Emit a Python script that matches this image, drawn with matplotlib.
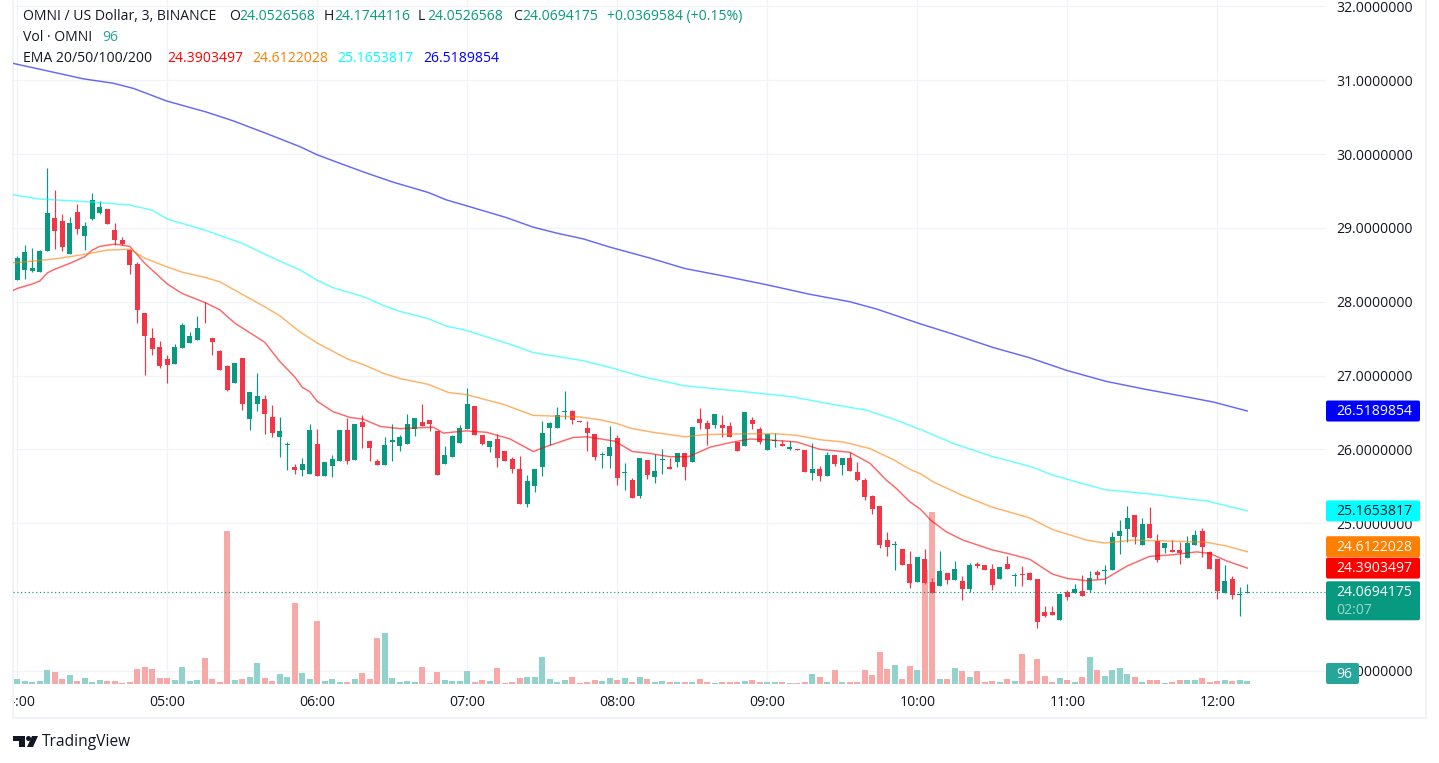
import matplotlib
matplotlib.use("Agg")
import matplotlib.pyplot as plt
from matplotlib.patches import FancyBboxPatch, Polygon, Circle, Rectangle
from matplotlib.transforms import IdentityTransform, Bbox

plt.rcParams['font.family'] = ['Open Sans', 'DejaVu Sans']

opens = [28.29,28.43,28.42,28.40,28.69,29.13,29.09,28.65,29.22,28.89,
 29.12,29.20,29.26,28.97,28.84,28.70,28.51,27.85,27.51,27.39,
 27.22,27.16,27.37,27.44,27.48,27.81,27.51,27.33,27.13,26.90,
 27.24,26.41,26.61,26.68,26.44,26.17,26.06,25.76,25.72,25.67,
 26.07,25.64,25.77,25.84,26.26,25.85,26.37,26.11,25.84,25.79,
 26.10,26.04,26.07,26.28,26.37,26.40,26.25,25.80,25.90,26.09,
 26.27,26.59,26.19,26.03,26.14,25.98,25.87,25.73,25.26,25.50,
 25.76,26.29,26.29,26.51,26.52,26.38,26.29,26.21,25.92,25.91,
 26.15,25.68,25.58,25.37,25.85,25.63,25.86,25.76,25.83,25.95,
 25.83,26.41,26.36,26.33,26.33,26.32,26.10,26.04,26.40,26.27,
 25.99,26.11,26.07,26.00,26.00,25.99,25.68,25.73,25.64,25.92,
 25.79,25.88,25.69,25.58,25.37,25.23,24.77,24.70,24.65,24.45,
 24.20,24.51,24.20,24.15,24.32,24.23,24.22,24.11,24.45,24.43,
 24.38,24.24,24.45,24.28,24.31,24.32,24.24,23.79,23.79,23.69,
 24.07,24.05,24.08,24.09,24.34,24.35,24.36,24.82,24.92,25.11,
 24.70,24.99,24.76,24.66,24.64,24.64,24.53,24.70,24.89,24.61,
 24.51,24.05,24.24,24.03,24.0526568]
closes = [28.59,28.67,28.46,28.69,29.20,28.96,28.74,29.07,28.99,29.03,
 29.38,29.28,29.05,28.84,28.78,28.50,27.89,27.54,27.36,27.13,
 27.14,27.39,27.69,27.54,27.64,27.80,27.45,27.07,26.80,27.17,
 26.61,26.78,26.72,26.48,26.22,26.25,26.07,25.72,25.80,26.26,
 25.64,25.83,25.87,26.26,25.84,26.34,26.30,26.02,25.79,26.06,
 26.13,26.17,26.34,26.42,26.32,26.34,25.65,25.92,26.18,26.29,
 26.61,26.19,26.07,26.11,25.88,25.84,25.73,25.26,25.57,25.73,
 26.22,26.36,26.46,26.52,26.40,26.37,26.22,25.90,25.94,26.03,
 25.61,25.69,25.34,25.88,25.65,25.71,25.87,25.73,25.95,25.76,
 26.30,26.36,26.27,26.48,26.29,26.17,25.98,26.51,26.34,26.10,
 26.21,26.13,26.04,26.03,25.99,25.69,25.73,25.64,25.92,25.80,
 25.88,25.71,25.58,25.35,25.19,24.70,24.68,24.72,24.43,24.19,
 24.54,24.19,24.05,24.35,24.23,24.38,24.11,24.43,24.42,24.36,
 24.16,24.40,24.38,24.30,24.30,24.23,23.66,23.74,23.75,24.04,
 24.00,24.11,24.01,24.26,24.30,24.36,24.81,24.89,25.07,24.81,
 24.99,24.80,24.50,24.73,24.61,24.59,24.73,24.84,24.68,24.38,
 24.08,24.21,24.03,24.04,24.0694175]
highs = [28.62,28.77,28.73,28.70,29.81,29.51,29.19,29.15,29.32,29.08,
 29.47,29.36,29.26,29.07,28.88,28.71,28.54,27.85,27.64,27.47,
 27.28,27.43,27.71,27.59,27.81,28.00,27.51,27.35,27.14,27.17,
 27.24,26.78,27.03,26.74,26.60,26.44,26.10,25.80,25.88,26.34,
 26.27,25.83,25.92,26.26,26.42,26.34,26.46,26.11,25.87,26.17,
 26.34,26.19,26.48,26.42,26.61,26.40,26.25,26.04,26.19,26.33,
 26.83,26.59,26.19,26.11,26.21,25.98,25.90,25.91,25.65,25.73,
 26.38,26.37,26.57,26.79,26.53,26.38,26.38,26.21,25.96,26.32,
 26.19,25.81,25.61,25.88,25.86,25.94,26.00,25.88,25.95,25.95,
 26.30,26.56,26.40,26.48,26.47,26.37,26.10,26.51,26.44,26.30,
 26.21,26.22,26.13,26.11,26.00,25.99,26.09,25.77,25.96,25.92,
 25.88,25.96,25.83,25.61,25.38,25.23,24.88,24.76,24.65,24.62,
 24.54,24.65,24.26,24.62,24.32,24.49,24.28,24.46,24.47,24.43,
 24.45,24.40,24.55,24.32,24.42,24.34,24.24,23.88,23.88,24.04,
 24.09,24.17,24.30,24.35,24.36,24.43,24.88,25.04,25.23,25.11,
 25.07,25.22,24.85,24.73,24.77,24.74,24.82,24.91,24.93,24.62,
 24.51,24.43,24.28,24.13,24.1744116]
lows = [28.29,28.31,28.40,28.40,28.69,28.71,28.69,28.65,28.92,28.70,
 29.11,29.19,29.05,28.77,28.77,28.38,27.71,27.01,27.28,27.10,
 26.90,27.16,27.37,27.44,27.48,27.71,27.28,27.07,26.79,26.90,
 26.53,26.26,26.52,26.21,26.17,25.90,25.72,25.67,25.64,25.67,
 25.64,25.64,25.62,25.84,25.80,25.85,26.02,25.84,25.79,25.79,
 25.84,25.98,26.07,26.18,26.32,26.25,25.65,25.80,25.90,26.09,
 26.27,26.19,26.06,25.96,25.76,25.84,25.68,25.26,25.22,25.42,
 25.64,26.06,26.29,26.41,26.34,26.37,25.98,25.85,25.75,25.75,
 25.52,25.45,25.34,25.34,25.60,25.54,25.67,25.73,25.76,25.58,
 25.83,26.27,26.06,26.29,26.17,26.17,25.98,26.04,26.27,26.07,
 25.99,26.03,26.04,25.99,25.99,25.69,25.58,25.57,25.64,25.77,
 25.65,25.71,25.57,25.31,25.12,24.66,24.55,24.36,24.43,24.12,
 24.20,24.17,24.05,24.15,24.17,24.23,23.96,24.07,24.39,24.36,
 24.09,24.24,24.38,24.15,24.15,24.23,23.58,23.73,23.75,23.69,
 23.96,24.05,24.01,24.07,24.24,24.17,24.36,24.58,24.74,24.72,
 24.70,24.80,24.47,24.59,24.61,24.45,24.53,24.70,24.54,24.38,
 23.97,24.05,23.97,23.74,24.0526568]
volumes = [160,96,64,96,448,384,160,288,96,192,
 64,128,96,96,32,64,480,544,480,192,
 192,128,544,96,128,832,160,64,4896,128,
 160,224,672,192,96,320,224,2592,352,160,
 2016,96,160,64,64,160,352,160,1472,1632,
 192,64,96,64,544,32,384,128,96,96,
 416,64,128,96,512,32,64,192,224,224,
 864,160,64,128,224,32,64,128,96,192,
 128,192,64,224,160,64,96,64,64,64,
 64,160,64,32,64,64,64,96,128,64,
 64,64,64,32,32,64,320,224,64,448,
 64,64,64,448,288,1024,480,608,160,576,
 448,3648,5504,160,160,512,416,224,416,64,
 96,64,160,96,960,96,800,256,64,192,
 128,64,224,864,448,256,448,512,320,224,
 64,128,128,32,64,128,128,128,192,64,
 96,128,96,128,96]

ema20_bar = [-0.6,0,2,3,4,5,7,9,10,11,13,15,17,20,22,25,27,29,31,33,35,37,38,39,40,
 42.1,44.4,46.1,48.4,51,55.5,56.8,59.9,62.6,65.7,68.8,70.6,74.1,75.9,79.7,
 82,83.9,87,89.5,92.4,95,97.7,99.9,103.9,107,111,113.7,115.9,117.2,119,
 120.4,121.9,123.9,126.1,129.9,132.4,135,138,140,142.6,145,148,151,154,157.2,159,161.2,164]
ema20_val = [28.15,28.18,28.24,28.28,28.39,28.44,28.52,28.61,28.70,28.75,28.78,28.75,28.52,28.24,28.11,27.99,27.89,27.71,27.58,27.45,27.19,26.98,26.84,26.78,26.65,
 26.51,26.43,26.41,26.31,26.28,26.30,26.22,26.25,26.23,26.14,25.97,26.04,26.16,26.17,26.11,
 25.97,25.95,25.90,25.90,26.03,26.09,26.14,26.13,26.10,26.00,25.96,25.81,25.58,25.47,25.29,
 25.19,25.03,24.88,24.77,24.64,24.58,24.51,24.31,24.25,24.22,24.24,24.42,24.55,24.57,24.61,24.59,24.49,24.3903]
ema50_bar = [-0.6,0,5,7,10,12,15,17,20,22,25,27,30,33,35,37.7,40,43.9,46.1,48.8,51,54.8,57.5,59.9,64.8,68.8,71.5,74.9,77.7,
 79.9,82,84.8,89,91.9,96.8,101.2,103.9,107,110.1,113.7,116.8,119,120.4,122.1,125.9,129.9,135,138.1,142.6,145,148.8,156,158.6,161.2,164]
ema50_val = [28.53,28.53,28.58,28.61,28.66,28.70,28.71,28.59,28.47,28.40,28.33,28.27,28.10,27.93,27.81,27.59,27.44,27.23,27.15,27.03,26.96,26.88,26.77,26.74,26.61,26.46,26.45,26.44,26.40,
 26.35,26.28,26.23,26.17,26.20,26.21,26.21,26.19,26.13,26.10,26.01,25.86,25.73,25.67,25.56,25.38,25.22,25.07,24.91,24.77,24.73,24.77,24.75,24.74,24.69,24.6122]
ema100_bar = [-0.6,0,3,5,10,15,18,20,25,30,35,37.7,40,42.1,46.1,48.8,51,54.8,57.2,59.9,66.1,68.8,71.9,75.5,79,
 83.5,89,96.1,103.5,107,113.2,116.8,120.4,124.8,130.1,135,138.1,142.6,145.2,150.6,155.9,158.6,164]
ema100_val = [29.45,29.44,29.39,29.38,29.35,29.31,29.24,29.12,28.97,28.79,28.55,28.43,28.29,28.19,28.07,27.95,27.87,27.77,27.67,27.61,27.41,27.31,27.26,27.20,27.11,
 26.98,26.86,26.79,26.71,26.64,26.53,26.41,26.27,26.08,25.90,25.77,25.65,25.52,25.45,25.40,25.33,25.30,25.1654]
ema200_bar = [-0.6,3,8.8,12.8,15.5,19.9,25.2,28.8,33.2,37.7,40,42.1,46.1,50.1,54.8,57.2,59.9,65.2,68.8,71.9,75.5,79,
 84.4,89,94.6,99.9,105.7,111,114.6,120.4,124.8,130.1,135,139.9,145.2,150.6,155.9,159.5,164]
ema200_val = [31.23,31.15,31.02,30.96,30.89,30.72,30.57,30.45,30.28,30.10,29.99,29.91,29.76,29.62,29.48,29.38,29.30,29.14,29.01,28.93,28.85,28.74,
 28.59,28.45,28.34,28.23,28.10,28.00,27.90,27.70,27.56,27.38,27.24,27.07,26.92,26.81,26.71,26.64,26.5190]

hour_bars = [0, 20, 40, 60, 80, 100, 120, 140, 160]
hour_labels = ['04:00', '05:00', '06:00', '07:00', '08:00', '09:00', '10:00', '11:00', '12:00']
price_ticks = [23, 24, 25, 26, 27, 28, 29, 30, 31, 32]
ema_labels = ['24.3903497', '24.6122028', '25.1653817', '26.5189854']
ema_levels = [24.3903497, 24.6122028, 25.1653817, 26.5189854]
last_price = 24.0694175
last_volume = 96

W, H = 1439, 763
GREEN, RED = '#089981', '#F23645'
GRID = '#f0f3fa'
INK = '#131722'

fig = plt.figure(figsize=(W / 100, H / 100), dpi=100, facecolor='white')
rect = [13 / W, (H - 684) / H, (1326 - 13) / W, 684 / H]
xlim = (-0.573, 174.5)
ylim = (22.82, 32.088)

ax = fig.add_axes(rect, zorder=0)
ax.set_xlim(*xlim)
ax.set_ylim(*ylim)
for s in ax.spines.values():
    s.set_visible(False)
ax.set_xticks(hour_bars)
ax.set_xticklabels(hour_labels)
ax.set_yticks(price_ticks)
ax.set_yticklabels([f'{p:.7f}' for p in price_ticks])
ax.yaxis.tick_right()
ax.tick_params(axis='both', length=0, labelsize=10.1, labelcolor=INK)
ax.tick_params(axis='y', pad=7.6)
ax.tick_params(axis='x', pad=8.2)
ax.grid(True, color=GRID, lw=0.85)
ax.set_axisbelow(True)

fig.canvas.draw()
for lab in ax.get_xticklabels():
    lab.set_clip_on(True)
    lab.set_clip_box(Bbox.from_extents(14, 0, W, H))

vax = fig.add_axes(rect, zorder=1, sharex=ax)
vax.patch.set_visible(False)
vax.axis('off')
vax.set_ylim(0, 684 * 32)

cax = fig.add_axes(rect, zorder=2, sharex=ax, sharey=ax)
cax.patch.set_visible(False)
cax.axis('off')

bars = list(range(len(opens)))
colors = [GREEN if c >= o else RED for o, c in zip(opens, closes)]
vcolors = ['#92D2CC' if c >= o else '#F7A9A7' for o, c in zip(opens, closes)]
vax.bar(bars, volumes, width=0.78, color=vcolors, linewidth=0)

cax.vlines(bars, lows, highs, colors=colors, linewidth=0.85)
tops = [max(o, c) for o, c in zip(opens, closes)]
bots = [min(o, c) for o, c in zip(opens, closes)]
cax.bar(bars, [t - b for t, b in zip(tops, bots)], bottom=bots, width=0.68, color=colors, linewidth=0)

for xs, ys, col in [(ema20_bar, ema20_val, '#ff0000'), (ema50_bar, ema50_val, '#ff7f00'),
                    (ema100_bar, ema100_val, '#00ffff'), (ema200_bar, ema200_val, '#0000ff')]:
    cax.plot(xs, ys, color=col, alpha=0.6, lw=1.05, solid_joinstyle='round', clip_on=True)
cax.axhline(last_price, color=GREEN, lw=0.85, ls=(0, (1, 2.2)))
cax.set_xlim(*xlim)
ax.set_ylim(*ylim)

# frame
for r in [(12, 0, 2, 719), (12, 717, 1415, 2), (1425, 0, 2, 719)]:
    fig.add_artist(Rectangle((r[0], H - r[1] - r[3]), r[2], r[3], transform=IdentityTransform(),
                             color=GRID, lw=0, zorder=0.5))

# price scale tags
def ypx(v):
    return ax.transData.transform((0, v))[1]

def tag(y_mid_disp, h, color, x0=1326, x1=1420, z=5):
    fig.add_artist(FancyBboxPatch((x0, y_mid_disp - h / 2), x1 - x0, h,
                                  boxstyle='round,pad=0,rounding_size=2', mutation_aspect=1,
                                  transform=IdentityTransform(), facecolor=color, edgecolor='none', zorder=z))

def tag_text(x, y_disp, s, color, z=6, **kw):
    fig.text(x / W, y_disp / H, s, color=color, fontsize=10.1, va='center', ha='left', zorder=z, **kw)

tag_spec = [(ema_levels[3], ema_labels[3], '#0000ff', 'white', 0),
            (ema_levels[2], ema_labels[2], '#00ffff', INK, 0),
            (ema_levels[1], ema_labels[1], '#ff7f00', 'white', 5),
            (ema_levels[0], ema_labels[0], '#ff0000', 'white', 0)]
for lvl, s, col, tc, off in tag_spec:
    y = ypx(lvl) + off
    tag(y, 21, col)
    tag_text(1336, y - 0.5, s, tc)

y_last = ypx(last_price)
tag(y_last - 9, 39, GREEN)
tag_text(1336, y_last - 0.5, f'{last_price:.7f}', 'white')
tag_text(1336, y_last - 18.5, '02:07', '#9fd6cc')

tag(H - 673.5, 21, '#26a69a', x1=1359)
tag_text(1336, H - 674, str(last_volume), 'white')

# legend rows
def row(x, y, s, color):
    fig.text(x / W, 1 - y / H, s, color=color, fontsize=10.1, va='center', ha='left', zorder=7)

row(23, 16.5, 'OMNI / US Dollar, 3, BINANCE', INK)
for x, s, col in [(229, 'O', INK), (239, '24.0526568', GREEN), (324, 'H', INK), (334, '24.1744116', GREEN),
                  (418, 'L', INK), (427, '24.0526568', GREEN), (513, 'C', INK), (522, '24.0694175', GREEN),
                  (607, '+0.0369584 (+0.15%)', GREEN)]:
    row(x, 16.5, s, col)
row(23, 37.5, 'Vol · OMNI', INK)
row(102, 37.5, str(last_volume), '#26a69a')
row(23, 58.5, 'EMA 20/50/100/200', INK)
for x, s, col in zip([167, 252, 337, 423], ema_labels, ['#ff0000', '#ff7f00', '#00ffff', '#0000ff']):
    row(x, 58.5, s, col)

# TradingView mark
def p(x, y):
    return (x, H - y)
fig.add_artist(Polygon([p(13, 736), p(25, 736), p(25, 747), p(19, 747), p(19, 741), p(13, 741)],
                       transform=IdentityTransform(), facecolor=INK, edgecolor='none', zorder=5))
fig.add_artist(Circle(p(28.5, 738.5), 2.5, transform=IdentityTransform(), facecolor=INK, edgecolor='none', zorder=5))
fig.add_artist(Polygon([p(32, 736), p(38, 736), p(33, 747), p(27, 747)],
                       transform=IdentityTransform(), facecolor=INK, edgecolor='none', zorder=5))
fig.text(42 / W, 1 - 742.5 / H, 'TradingView', color=INK, fontsize=11.2, fontweight='medium', va='center', ha='left')

fig.savefig('out.png', dpi=100, facecolor='white')
